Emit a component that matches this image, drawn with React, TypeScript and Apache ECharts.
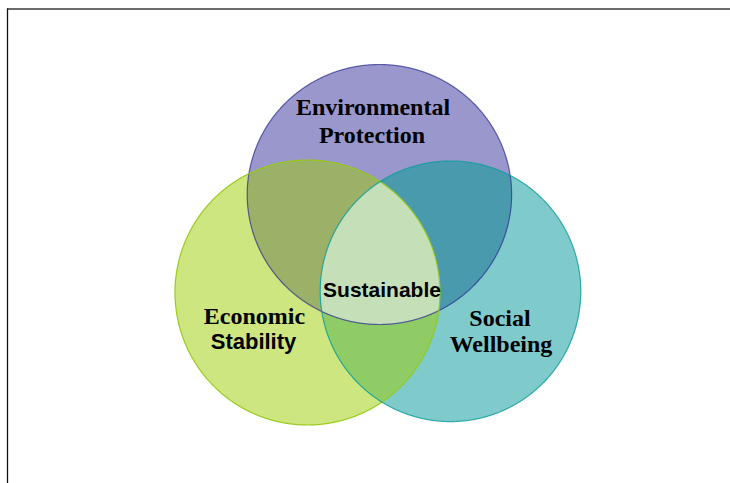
import React, { useEffect, useRef } from "react";
import * as echarts from "echarts";

// ---- data ----
const circleNames = ["Environmental Protection", "Economic Stability", "Social Wellbeing"];
const circleLabelLines = [
  ["Environmental", "Protection"],
  ["Economic", "Stability"],
  ["Social", "Wellbeing"],
];
const centerLabel = "Sustainable";
// regions: which circles they belong to
const regionMembers: number[][] = [[0], [1], [2], [0, 1], [0, 2], [1, 2], [0, 1, 2]];

// ---- layout (chart units = pixels of the 730x483 canvas) ----
const layout = {
  cx: [379.4, 307.5, 450.5],
  cy: [194.5, 292.5, 291.3],
  rx: [132.2, 132.5, 130.3],
  ry: [130, 132.5, 130.3],
};
const regionFill = ["#9a97cc", "#cde680", "#7fcbcc", "#9bb168", "#4a9aae", "#8fcc66", "#c5dfb8"];
const outlineStroke = ["rgba(40,40,145,0.7)", "rgba(150,200,20,0.95)", "rgba(10,155,155,0.8)"];

const N = 2400;

function inside(c: number, x: number, y: number) {
  const dx = (x - layout.cx[c]) / layout.rx[c];
  const dy = (y - layout.cy[c]) / layout.ry[c];
  return dx * dx + dy * dy <= 1 + 1e-9;
}

function regionPoints(members: number[]): number[][] {
  const pts: number[][] = [];
  for (const m of members) {
    for (let k = 0; k < N; k++) {
      const t = (2 * Math.PI * k) / N;
      const x = layout.cx[m] + layout.rx[m] * Math.cos(t);
      const y = layout.cy[m] + layout.ry[m] * Math.sin(t);
      if (members.every((o) => o === m || inside(o, x, y))) pts.push([x, y]);
    }
  }
  let sx = 0, sy = 0;
  pts.forEach((p) => { sx += p[0]; sy += p[1]; });
  sx /= pts.length; sy /= pts.length;
  pts.sort((a, b) => Math.atan2(a[1] - sy, a[0] - sx) - Math.atan2(b[1] - sy, b[0] - sx));
  return pts;
}

const serif = "'Liberation Serif', 'Times New Roman', serif";
const sans = "'Liberation Sans', Arial, sans-serif";

function textEl(text: string, x: number, y: number, size: number, family: string) {
  return {
    type: "text",
    x,
    y,
    silent: true,
    z: 10,
    style: {
      text,
      fill: "#000",
      fontSize: size,
      fontFamily: family,
      fontWeight: "bold",
      align: "center",
      textAlign: "center",
      verticalAlign: "middle",
      textVerticalAlign: "middle",
    },
  };
}

export default function App() {
  const ref = useRef<HTMLDivElement>(null);
  useEffect(() => {
    if (!ref.current) return;
    const chart = echarts.init(ref.current, null, { renderer: "svg" });
    const items = [
      ...regionMembers.map((m, i) => ({ value: [i, 0], kind: "fill", members: m, name: m.map((c) => circleNames[c]).join(" ∩ ") })),
      ...circleNames.map((n, i) => ({ value: [i, 0], kind: "outline", members: [i], name: n })),
    ];
    chart.setOption({
      animation: false,
      backgroundColor: "#ffffff",
      grid: { left: 0, right: 0, top: 0, bottom: 0 },
      xAxis: { type: "value", min: 0, max: 730, show: false },
      yAxis: { type: "value", min: 0, max: 483, inverse: true, show: false },
      series: [
        {
          type: "custom",
          coordinateSystem: "cartesian2d",
          clip: false,
          silent: true,
          data: items.map((it) => it.value),
          renderItem: (params: any, api: any) => {
            const it = items[params.dataIndex];
            if (it.kind === "fill") {
              const idx = regionMembers.indexOf(it.members);
              const pts = regionPoints(it.members).map((p) => api.coord(p));
              return {
                type: "polygon",
                shape: { points: pts },
                style: { fill: regionFill[idx], stroke: "none" },
              };
            }
            const c = it.members[0];
            const pts = regionPoints([c]).map((p) => api.coord(p));
            return {
              type: "polygon",
              shape: { points: pts },
              style: { fill: "none", stroke: outlineStroke[c], lineWidth: 1.2 },
            };
          },
        },
      ],
      graphic: [
        { type: "line", shape: { x1: 7, y1: 9, x2: 730, y2: 9 }, style: { stroke: "#3a3a3a", lineWidth: 1.5 } },
        { type: "line", shape: { x1: 7.5, y1: 8.5, x2: 7.5, y2: 483 }, style: { stroke: "#111", lineWidth: 1.3 } },
        textEl(circleLabelLines[0][0], 373, 107, 24, serif),
        textEl(circleLabelLines[0][1], 372, 134.6, 24, serif),
        textEl(circleLabelLines[1][0], 254.5, 316, 24, serif),
        textEl(circleLabelLines[1][1], 253.5, 341, 22, sans),
        textEl(circleLabelLines[2][0], 500, 317.6, 24, serif),
        textEl(circleLabelLines[2][1], 501, 343.6, 24, serif),
        textEl(centerLabel, 382, 289.4, 21, sans),
      ],
    });
    return () => chart.dispose();
  }, []);
  return (
    <div
      ref={ref}
      style={{ position: "fixed", left: 0, top: 0, width: 730, height: 483 }}
    />
  );
}
